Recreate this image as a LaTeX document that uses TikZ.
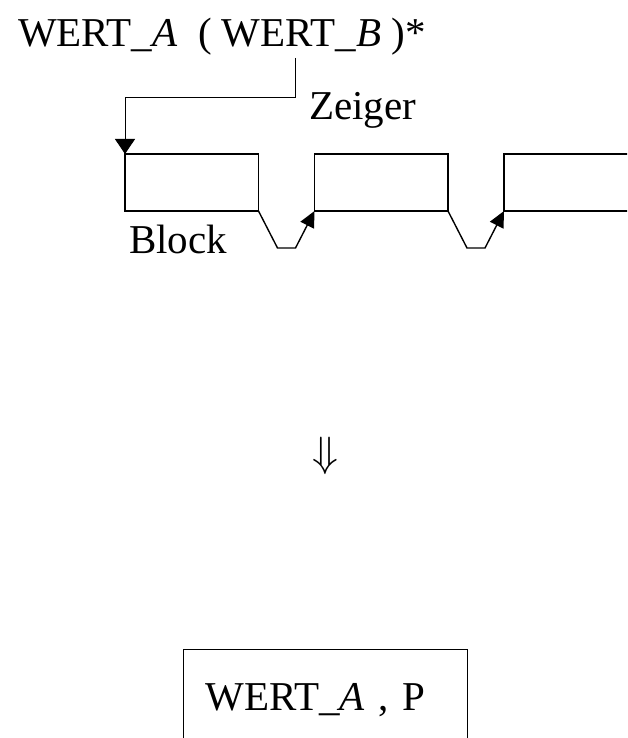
\documentclass[tikz,border=0pt]{standalone}
\usepackage{fontspec}
\setmainfont{Liberation Serif}
\usepackage{tikz}
\usetikzlibrary{positioning}
\usetikzlibrary{arrows.meta}
\tikzset{
  txt/.style={font=\fontsize{41}{49}\selectfont, inner sep=0pt},
  blockbox/.style={draw, line width=1.4pt, minimum width=133.5pt, minimum height=57pt, inner sep=0pt, outer sep=0pt},
  link/.style={line width=1.4pt, -{Triangle[length=16pt,width=15pt]}},
  zeiger/.style={line width=1pt, -{Triangle[length=15pt,width=20pt]}},
}

\begin{document}
\begin{tikzpicture}[x=1pt,y=-1pt]
\clip (0,0) rectangle (627,738);
\node[txt, anchor=base west] (typ) at (18,47) {WERT\_\textit{A}\ \ ( WERT\_\textit{B} )*};
\coordinate (ptr) at (295,58);
% blocks of the list
\node[blockbox, anchor=north west] (blk1) at (125,154) {};
\node[blockbox, right=56pt of blk1] (blk2) {};
\node[blockbox, right=56pt of blk2] (blk3) {};
\node[txt, anchor=base west] (zg) at (309,120) {Zeiger};
\node[txt, anchor=base west] (bl) at (129,253) {Block};
\draw[zeiger] (ptr) -- ++(0,40) -| (blk1.north west);
\foreach \a/\b in {blk1/blk2,blk2/blk3} {
\draw[link] (\a.south east) -- ++(19,37) -- ++(18,0) -- (\b.south west);
}
%\draw (blk3.south east) -- ++(19,37);
\node[txt] (impl) at (325,456) {\scalebox{1.7}{$\Downarrow$}};
\node[txt, draw, line width=1.4pt, anchor=north west, text width=240pt, align=left,
  inner xsep=22pt, inner ysep=33pt, text height=28pt, text depth=8pt] (res) at (183,649) {WERT\_\textit{A} , P};
\end{tikzpicture}
\end{document}
